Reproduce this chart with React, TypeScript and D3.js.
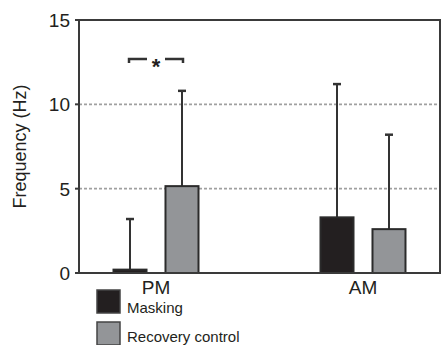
import React from "react";
import * as d3 from "d3";

const groups = ["PM", "AM"];
const conditions = ["Masking", "Recovery control"];
const means = [
  [0.2, 5.15],
  [3.3, 2.6],
];
const upperErr = [
  [3.2, 10.8],
  [11.2, 8.2],
];
const yTicks = [0, 5, 10, 15];
const gridTicks = [5, 10];
const fills = ["#231f20", "#939598"];

const W = 441;
const H = 345;
const left = 79;
const right = 440;
const top = 20;
const bottom = 273;
const font = "'Liberation Sans', Arial, sans-serif";
const ink = "#231f20";

const App = () => {
  const y = d3.scaleLinear().domain([0, 15]).range([bottom, top]);
  const x = d3.scalePoint().domain(groups).range([left, right]).padding(0.372);
  const sub = d3
    .scaleBand()
    .domain(conditions)
    .range([-42.5, 42.5])
    .paddingInner(0.365);
  const bw = sub.bandwidth();

  // significance bracket over PM
  const bx1 = x("PM")! + sub(conditions[0])! + bw / 2;
  const bx2 = x("PM")! + sub(conditions[1])! + bw / 2;
  const by = 59;
  const mid = (bx1 + bx2) / 2;

  return (
    <svg
      width={W}
      height={H}
      style={{ position: "absolute", left: 0, top: 0, background: "#fff" }}
      fontFamily={font}
    >
      {gridTicks.map((t) => (
        <line
          key={t}
          x1={left}
          x2={right}
          y1={y(t)}
          y2={y(t)}
          stroke="#a0a0a0"
          strokeWidth={1.8}
          strokeDasharray="3,2"
        />
      ))}

      {groups.map((g, gi) =>
        conditions.map((c, ci) => {
          const x0 = x(g)! + sub(c)!;
          const cx = x0 + bw / 2;
          return (
            <g key={g + c}>
              <line
                x1={cx}
                x2={cx}
                y1={y(means[gi][ci])}
                y2={y(upperErr[gi][ci])}
                stroke="#333"
                strokeWidth={2}
              />
              <line
                x1={cx - 4}
                x2={cx + 4}
                y1={y(upperErr[gi][ci])}
                y2={y(upperErr[gi][ci])}
                stroke="#333"
                strokeWidth={2.5}
              />
              <rect
                x={x0}
                y={y(means[gi][ci])}
                width={bw}
                height={y(0) - y(means[gi][ci])}
                fill={fills[ci]}
                stroke="#2b2b2b"
                strokeWidth={2}
              />
            </g>
          );
        })
      )}

      {/* frame */}
      <path
        d={`M${left},${bottom}V${top}H${right}V${bottom}Z`}
        fill="none"
        stroke="#3a3a3a"
        strokeWidth={2}
      />
      {yTicks.map((t) => (
        <g key={t}>
          <line x1={left - 4} x2={left} y1={y(t)} y2={y(t)} stroke="#3a3a3a" strokeWidth={2} />
          <text
            x={left - 9}
            y={y(t)}
            dy="0.36em"
            textAnchor="end"
            fontSize={19}
            fill={ink}
          >
            {t}
          </text>
        </g>
      ))}
      <text
        transform={`translate(26,${(top + bottom) / 2}) rotate(-90)`}
        textAnchor="middle"
        fontSize={18}
        fill={ink}
      >
        Frequency (Hz)
      </text>

      {groups.map((g) => (
        <text key={g} x={x(g)} y={294} textAnchor="middle" fontSize={19} fill={ink}>
          {g}
        </text>
      ))}

      <path
        d={`M${bx1 - 1},${by + 4}V${by}H${mid - 9}M${mid + 9},${by}H${bx2 + 1}V${by + 4}`}
        fill="none"
        stroke="#333"
        strokeWidth={2.5}
      />
      <text x={mid} y={by + 15} textAnchor="middle" fontSize={22} fontWeight="bold" fill={ink}>
        *
      </text>

      {conditions.map((c, i) => (
        <g key={c}>
          <rect
            x={97}
            y={290 + i * 32}
            width={23}
            height={23}
            fill={fills[i]}
            stroke="#444"
            strokeWidth={1.5}
          />
          <text x={127} y={313 + i * 29} fontSize={15} fill={ink}>
            {c}
          </text>
        </g>
      ))}
    </svg>
  );
};

export default App;
